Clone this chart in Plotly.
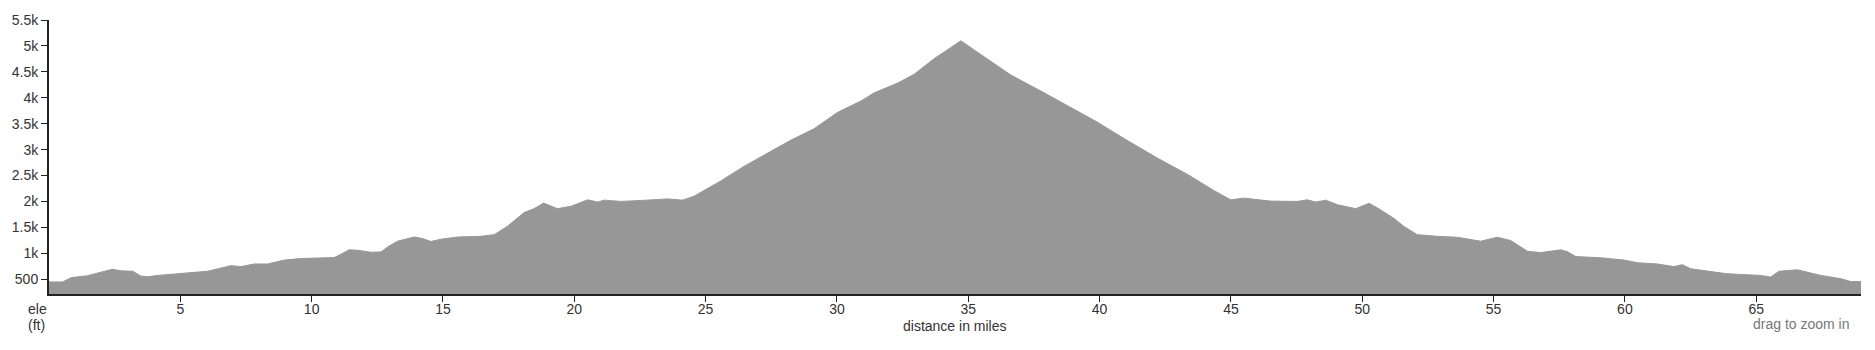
import plotly.graph_objects as go

# distance (miles) and elevation (ft)
distance_mi = [0.00, 0.52, 0.84, 1.47, 1.98, 2.42, 2.74, 3.19, 3.50, 3.76, 4.14, 5.02, 6.04, 6.67, 6.93,
               7.31, 7.81, 8.32, 8.96, 9.59, 10.86, 11.12, 11.43, 11.75, 12.26, 12.64, 12.89, 13.27,
               13.91, 14.22, 14.54, 14.92, 15.56, 16.44, 16.95, 17.46, 17.84, 18.09, 18.47, 18.83,
               19.36, 19.87, 20.51, 20.89, 21.14, 21.77, 22.79, 23.55, 24.12, 24.56, 24.82, 25.20,
               25.58, 26.47, 27.36, 28.24, 29.13, 30.02, 30.91, 31.42, 32.31, 32.94, 33.70, 34.72,
               35.35, 35.98, 36.62, 37.89, 38.78, 39.92, 40.93, 42.20, 43.35, 44.36, 44.99, 45.50,
               46.52, 47.53, 47.91, 48.23, 48.61, 49.06, 49.75, 50.26, 50.58, 51.21, 51.59, 52.10,
               52.86, 53.62, 54.51, 55.14, 55.65, 56.29, 56.80, 57.56, 57.81, 58.13, 59.08, 59.97,
               60.48, 61.24, 61.87, 62.19, 62.51, 63.14, 63.90, 65.17, 65.55, 65.87, 66.57, 67.46,
               68.22, 68.60, 68.99]
elevation_ft = [449, 449, 532, 570, 638, 694, 664, 656, 562, 551, 575, 607, 656, 732, 764,
                745, 796, 796, 871, 901, 920, 984, 1071, 1060, 1022, 1028, 1122, 1235,
                1316, 1286, 1229, 1273, 1316, 1329, 1361, 1524, 1674, 1787, 1863, 1970,
                1863, 1908, 2033, 1989, 2027, 2002, 2027, 2051, 2027, 2102, 2178, 2285,
                2398, 2681, 2932, 3182, 3403, 3718, 3937, 4095, 4283, 4453, 4754, 5099,
                4879, 4660, 4440, 4095, 3842, 3529, 3214, 2837, 2523, 2210, 2033, 2065,
                2008, 2002, 2033, 1989, 2027, 1938, 1863, 1965, 1876, 1674, 1518, 1361,
                1329, 1311, 1235, 1311, 1248, 1041, 1015, 1069, 1033, 939, 915, 871,
                820, 796, 745, 783, 702, 656, 607, 575, 543, 656, 683, 575,
                513, 457, 457]

x_tick_vals = [5, 10, 15, 20, 25, 30, 35, 40, 45, 50, 55, 60, 65]
y_tick_vals = [500, 1000, 1500, 2000, 2500, 3000, 3500, 4000, 4500, 5000, 5500]
y_tick_text = ["500", "1k", "1.5k", "2k", "2.5k", "3k", "3.5k", "4k", "4.5k", "5k", "5.5k"]

FONT = "Liberation Sans, Arial, sans-serif"
W, H = 1875, 350
ML, MR, MT, MB = 48, 14, 14, 56
PW = W - ML - MR
PH = H - MT - MB

fig = go.Figure()
fig.add_trace(go.Scatter(
    x=distance_mi, y=elevation_ft, mode="lines", fill="tozeroy",
    fillcolor="#979797", line=dict(color="#979797", width=1),
    hoverinfo="skip", showlegend=False,
))

axis_common = dict(
    showgrid=False, zeroline=False, showline=True, linecolor="#222", linewidth=2,
    ticks="outside", ticklen=6, tickwidth=1, tickcolor="#222",
    tickfont=dict(family=FONT, size=14, color="#333"),
)
fig.update_xaxes(range=[0, 68.99], tickvals=x_tick_vals, ticklabelstandoff=-5, **axis_common)
fig.update_yaxes(range=[217, 5500], tickvals=y_tick_vals, ticktext=y_tick_text, **axis_common)

def px(xp):
    return (xp - ML) / PW

def py(yp):
    return (H - MB - yp) / PH

ann_font = dict(family=FONT, size=14, color="#333")
annotations = [
    dict(text="ele", x=px(25), y=py(309), xanchor="left", yanchor="middle", font=ann_font),
    dict(text="(ft)", x=px(25), y=py(326), xanchor="left", yanchor="middle", font=ann_font),
    dict(text="distance in miles", x=0.5, y=py(327), xanchor="center", yanchor="middle", font=ann_font),
    dict(text="drag to zoom in", x=px(1751), y=py(325), xanchor="left", yanchor="middle",
         font=dict(family=FONT, size=14, color="#777")),
]
for a in annotations:
    a.update(xref="paper", yref="paper", showarrow=False)

fig.update_layout(
    width=W, height=H, margin=dict(l=ML, r=MR, t=MT, b=MB),
    paper_bgcolor="white", plot_bgcolor="white",
    annotations=annotations,
)

fig.write_html("out.html", config={"displayModeBar": False})
